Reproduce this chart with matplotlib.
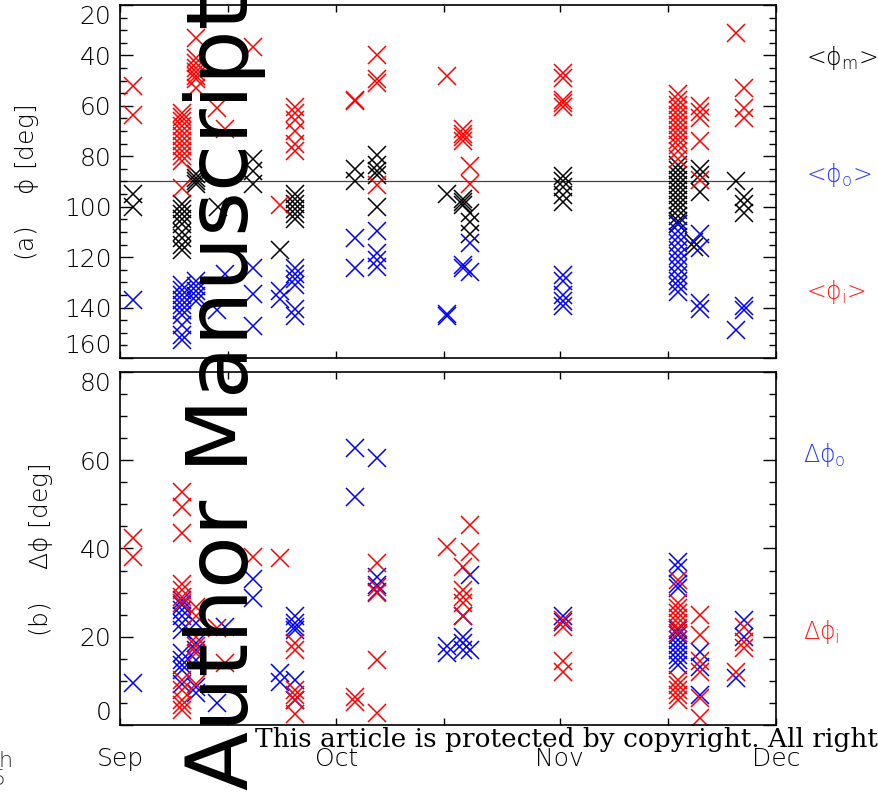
import matplotlib
matplotlib.use('Agg')
import matplotlib.pyplot as plt
from matplotlib.ticker import MultipleLocator
import numpy as np

# x axis: days since 1 Sep
months = ['Sep', 'Oct', 'Nov', 'Dec']
month_days = [0, 30, 61, 91]
mid_days = [15, 45, 76]

# panel (a): <phi_m> black, <phi_o> blue, <phi_i> red  [deg]
days_m = [1.8, 8.6, 10.6, 13.6, 18.4, 22.2, 24.3, 32.6, 35.6, 45.4, 47.6, 48.5,
          61.5, 77.4, 80.4, 79.6, 85.5, 86.5]
phi_m = [[95, 100], [99, 101, 103, 105, 107, 110, 112.5, 115, 117], [87, 88.5, 90, 91],
         [100], [81, 86, 91], [117], [95, 97, 99, 101, 103, 105], [85, 90],
         [79.5, 83.5, 86, 87.5, 100], [95], [97, 98, 99.5], [102.5, 106, 111],
         [88, 90, 92, 95.5, 98],
         [83.5, 85.5, 87.5, 89.5, 91.5, 93.5, 95.5, 97.5, 99.5, 101.5, 103.5, 105.5, 107],
         [85, 87.5, 94], [114, 116], [90], [96, 99, 102.5]]

days_o = [1.8, 8.6, 10.6, 13.4, 14.6, 18.4, 22.2, 24.3, 32.6, 35.6, 45.4, 47.6, 48.5,
          61.5, 77.4, 80.4, 85.5, 86.5]
phi_o = [[137], [131, 133, 135, 137, 139, 141, 143, 147, 151, 153],
         [129.5, 131.5, 133.5, 135.5, 137.5], [141], [126.5], [124.5, 134.5, 147.5],
         [133.5, 136.5], [124.5, 126.5, 128.5, 131, 140.5, 143.5], [112.5, 124.5],
         [109.5, 118.5, 121, 124], [142.5, 143.5], [123, 124.5], [114.5, 126],
         [127, 129.5, 135, 137.5, 139.5],
         [107, 109.5, 112, 114.5, 117, 119.5, 122, 124.5, 127, 129.5, 131.5, 134],
         [111, 116.5, 138, 140.5], [149], [139.5, 141]]

days_i = [1.8, 8.6, 10.6, 13.4, 14.6, 18.4, 22.2, 24.3, 32.6, 35.6, 45.4, 47.6, 48.5,
          61.5, 77.4, 80.4, 85.5, 86.5]
phi_i = [[52, 63.5], [63, 64.5, 66, 68, 70, 72, 74, 76, 78, 80, 82, 92.5],
         [33, 41, 43, 45, 46.5, 48, 49.5, 53], [61], [69], [36.5], [99.5],
         [60.5, 63, 65.5, 70, 75, 78], [57.5, 58], [40, 49.5, 51, 91.5], [48],
         [69, 71, 72.5, 74], [84, 91], [47, 49, 57.5, 59, 60.5],
         [55.5, 57.5, 59.5, 61.5, 63.5, 65.5, 67.5, 69.5, 71.5, 73.5, 75.5, 78, 81],
         [60, 62.5, 65, 74, 89.5], [31], [53, 61, 65]]

# panel (b): dphi_o blue, dphi_i red  [deg]
ddays_o = [1.8, 8.6, 10.6, 13.4, 14.6, 18.4, 22.2, 24.3, 32.6, 35.6, 45.4, 47.6, 48.5,
           61.5, 77.4, 80.4, 85.5, 86.5]
dphi_o = [[9.5], [28.3, 27.2, 26, 24.6, 23, 21.5, 16.2, 14.7, 13.6, 12.5, 9.4],
          [23, 18.5, 17, 14.7, 8.7, 7.2], [5], [22.3], [33, 28.7], [11.7, 9.8],
          [24.6, 23, 22.3, 21.5, 10.2, 5.7], [62.7, 51.7], [60.4, 33.6, 31.7, 30.2],
          [17.8, 16.2], [24.6, 20, 18.5, 17], [34, 17], [24.6, 23.4],
          [37, 35.5, 32, 31, 21.5, 20.4, 19.3, 18.1, 17, 15.9, 14.7, 13.6],
          [16.6, 13.2, 6.8], [10.6], [23.8, 20]]

ddays_i = [1.8, 8.6, 10.6, 13.4, 14.6, 18.4, 22.2, 24.3, 32.6, 35.6, 45.4, 47.6, 48.5,
           61.5, 77.4, 80.4, 85.5, 86.5]
dphi_i = [[42.3, 38.1], [52.9, 49.5, 43.4, 32, 30.6, 29, 27.6, 10.2, 7.9, 5.7, 4.5, 3.4],
          [26.8, 24.6, 20, 17.8, 16.2, 9.4], [21.9], [14], [38.1], [37.8],
          [18.5, 17, 7.9, 6.8, 5.7, 2.6], [6.4, 5.3], [36.6, 31.3, 29.8, 14.7, 2.7],
          [40.4], [35.9, 30.6, 29.1, 27.6, 24.6], [45.3, 39.3], [23.8, 22.3, 14.4, 12.1],
          [32.9, 27.6, 26.4, 25.3, 24.2, 23, 21.9, 20.8, 10.2, 9.1, 7.9, 6.8, 5.7],
          [24.9, 20.4, 14.4, 12.1, 6.1, 1.5], [12.1], [22.3, 18.9, 17.4]]


def expand(days, groups):
    x = np.concatenate([[d] * len(g) for d, g in zip(days, groups)])
    y = np.concatenate([np.asarray(g, float) for g in groups])
    return x, y


plt.rcParams['font.weight'] = 'light'
plt.rcParams['mathtext.fontset'] = 'custom'
plt.rcParams['mathtext.rm'] = 'DejaVu Sans:light'
plt.rcParams['mathtext.it'] = 'DejaVu Sans:light'
plt.rcParams['mathtext.bf'] = 'DejaVu Sans:light'
mk = dict(ls='none', marker='x', ms=13, mew=1.1)

fig = plt.figure(figsize=(8.79, 7.98), dpi=100)
ax1 = fig.add_axes([0.1365, 0.5514, 0.7463, 0.4424])
ax2 = fig.add_axes([0.1365, 0.0915, 0.7463, 0.4424])

ax1.axhline(90, color='#444444', lw=0.9, zorder=1)
ax1.plot(*expand(days_m, phi_m), color='black', **mk)
ax1.plot(*expand(days_o, phi_o), color='blue', **mk)
ax1.plot(*expand(days_i, phi_i), color='red', **mk)

ax2.plot(*expand(ddays_o, dphi_o), color='blue', **mk)
ax2.plot(*expand(ddays_i, dphi_i), color='red', **mk)

for ax in (ax1, ax2):
    ax.set_xlim(0, 91)
    ax.set_xticks(month_days)
    ax.set_xticks(mid_days, minor=True)
    ax.yaxis.set_minor_locator(MultipleLocator(5))
    ax.tick_params(which='both', direction='in', top=True, right=True, labelsize=18)
    ax.tick_params(axis='y', which='major', length=9.5, width=1, pad=6)
    ax.tick_params(axis='y', which='minor', length=5, width=1)
    ax.tick_params(axis='x', which='both', length=5, width=1, pad=16)
    for s in ax.spines.values():
        s.set_linewidth(1.2)

ax1.set_ylim(160, 20)
ax1.set_yticks(range(20, 161, 20))
ax1.set_xticklabels([])
ax2.set_ylim(0, 80)
ax2.set_yticks(range(0, 81, 20))
ax2.set_xticklabels(months)

# IDL-style: end labels pulled inside the axis range
t = ax1.yaxis.get_major_ticks()
t[0].label1.set_va('top')
t[-1].label1.set_va('bottom')
t = ax2.yaxis.get_major_ticks()
t[0].label1.set_va('bottom')
t[-1].label1.set_va('top')

W, H = 879, 798
fig.text(27 / W, 1 - 183 / H, '(a)    $\\phi$ [deg]', rotation=90, ha='center', va='center', fontsize=18)
fig.text(41 / W, 1 - 550 / H, '(b)    $\\Delta\\phi$ [deg]', rotation=90, ha='center', va='center', fontsize=18)

fig.text(806 / W, 1 - 58 / H, '<$\\phi_{\\rm m}$>', color='black', fontsize=17, ha='left', va='center')
fig.text(806 / W, 1 - 175 / H, '<$\\phi_{\\rm o}$>', color='#2a3cff', fontsize=17, ha='left', va='center')
fig.text(806 / W, 1 - 292 / H, '<$\\phi_{\\rm i}$>', color='#ff2020', fontsize=17, ha='left', va='center')
fig.text(803 / W, 1 - 455 / H, '$\\Delta\\phi_{\\rm o}$', color='#2a3cff', fontsize=17, ha='left', va='center')
fig.text(803 / W, 1 - 632 / H, '$\\Delta\\phi_{\\rm i}$', color='#ff2020', fontsize=17, ha='left', va='center')

# overlays from the source page
fig.text(248 / W, 1 - 790 / H, 'Author Manuscript', rotation=90, rotation_mode='anchor',
         ha='left', va='baseline', fontsize=62, family='DejaVu Sans', weight='normal',
         color='black', zorder=10)
fig.text(255 / W, 1 - 747 / H, 'This article is protected by copyright. All rights reserved',
         ha='left', va='baseline', fontsize=19, family='DejaVu Serif', weight='normal',
         color='black', zorder=10)
fig.text(-2 / W, 1 - 767 / H, 'h', ha='left', va='baseline', fontsize=16, color='#333333')
fig.text(-8 / W, 1 - 785 / H, '5', ha='left', va='baseline', fontsize=16, color='#333333')

plt.savefig('out.png', dpi=100)
plt.close()
